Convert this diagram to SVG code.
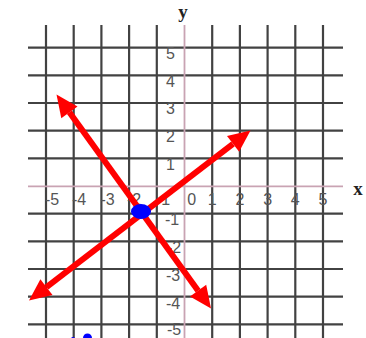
<svg xmlns="http://www.w3.org/2000/svg" width="366" height="338" viewBox="0 0 366 338">
<style>
.grid line{stroke:#424242;stroke-width:2.2}
.axis line{stroke:#c9a3b3;stroke-width:1.8}
.lab{font-family:"Liberation Sans",Arial,sans-serif;font-size:16px;fill:#555}
.ax{font-family:"Liberation Serif","Times New Roman",serif;font-size:19px;font-weight:bold;fill:#222}
.red{stroke:#ff0000;stroke-width:6;fill:none}
.head{fill:#ff0000}
</style>
<rect width="366" height="338" fill="#ffffff"/>
<g id="grid" class="grid">
<line x1="46" y1="25" x2="46" y2="338"/>
<line x1="73.7" y1="25" x2="73.7" y2="338"/>
<line x1="101.4" y1="25" x2="101.4" y2="338"/>
<line x1="129.1" y1="25" x2="129.1" y2="338"/>
<line x1="156.8" y1="25" x2="156.8" y2="338"/>
<line x1="212.2" y1="25" x2="212.2" y2="338"/>
<line x1="239.9" y1="25" x2="239.9" y2="338"/>
<line x1="267.6" y1="25" x2="267.6" y2="338"/>
<line x1="295.3" y1="25" x2="295.3" y2="338"/>
<line x1="323" y1="25" x2="323" y2="338"/>
<line x1="28" y1="47.6" x2="343" y2="47.6"/>
<line x1="28" y1="75.3" x2="343" y2="75.3"/>
<line x1="28" y1="103" x2="343" y2="103"/>
<line x1="28" y1="130.7" x2="343" y2="130.7"/>
<line x1="28" y1="158.3" x2="343" y2="158.3"/>
<line x1="28" y1="213.7" x2="343" y2="213.7"/>
<line x1="28" y1="241.3" x2="343" y2="241.3"/>
<line x1="28" y1="269" x2="343" y2="269"/>
<line x1="28" y1="296.7" x2="343" y2="296.7"/>
<line x1="28" y1="324.3" x2="343" y2="324.3"/>
</g>
<g id="axes" class="axis">
<line x1="184.5" y1="25" x2="184.5" y2="338"/>
<line x1="28" y1="186.3" x2="343" y2="186.3"/>
</g>
<g id="labels">
<text class="ax" x="183" y="18" text-anchor="middle">y</text>
<text class="ax" x="358" y="195" text-anchor="middle">x</text>
<g class="lab" text-anchor="middle">
<text x="170.5" y="59">5</text>
<text x="170.5" y="86.5">4</text>
<text x="170.5" y="114">3</text>
<text x="170.5" y="142">2</text>
<text x="170.5" y="170">1</text>
<text x="172" y="224.5">-1</text>
<text x="174" y="252.5">-2</text>
<text x="173" y="280.5">-3</text>
<text x="173" y="308.5">-4</text>
<text x="174" y="335">-5</text>
<text x="52" y="204.5">-5</text>
<text x="79" y="204.5">-4</text>
<text x="107.5" y="204.5">-3</text>
<text x="134" y="204.5">-2</text>
<text x="163" y="204.5">-1</text>
<text x="191.7" y="204.5">0</text>
<text x="212.2" y="204.5">1</text>
<text x="239.9" y="204.5">2</text>
<text x="267.6" y="204.5">3</text>
<text x="295.3" y="204.5">4</text>
<text x="323" y="204.5">5</text>
</g>
</g>
<g id="connectors">
<line class="red" x1="69.4" y1="112.3" x2="198.1" y2="290.7"/>
<polygon class="head" points="56.5,94.5 61.3,118.2 77.5,106.5"/>
<polygon class="head" points="211,308.5 190,296.5 206.2,284.8"/>
<line class="red" x1="46.5" y1="287.1" x2="233" y2="143.9"/>
<polygon class="head" points="29,300.5 52.5,295 40.4,279.2"/>
<polygon class="head" points="250.5,130.5 239.1,151.8 227,136"/>
</g>
<g id="point">
<ellipse cx="141" cy="211.5" rx="10" ry="7.5" fill="#0000ff"/>
<circle cx="87.5" cy="338" r="4.5" fill="#0000ff"/>
<circle cx="73" cy="339" r="2" fill="#0000ff"/>
</g>
</svg>
